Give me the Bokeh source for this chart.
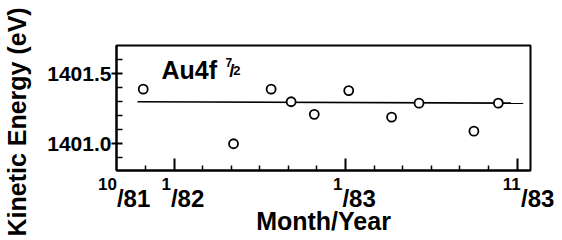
from bokeh.plotting import figure
from bokeh.models import Range1d, FixedTicker, Label, LinearAxis
from bokeh.embed import file_html
from bokeh.resources import INLINE

# Data (x: months counted from 1/82)
month_idx = [-2.16, 4.16, 6.79, 8.19, 9.81, 12.22, 15.22, 17.14, 20.98, 22.69]
energy = [1401.39, 1401.00, 1401.39, 1401.30, 1401.21, 1401.38, 1401.19, 1401.29, 1401.09, 1401.29]

fit_x = [-2.56, 24.43]
fit_y = [1401.30, 1401.29]

y_major = [1401.0, 1401.5]
y_tick_labels = ["1401.0", "1401.5"]
y_minor = [1400.9, 1401.1, 1401.2, 1401.3, 1401.4, 1401.6]
x_major = [0, 12, 24]
x_minor = [-2, 2, 4, 6, 8, 10, 14, 16, 18, 20, 22]

x_label_pos = [-4.0, -0.22, 11.78, 24.28]
x_label_num = ["10", "1", "1", "11"]
x_label_den = ["81", "82", "83", "83"]

y_title = "Kinetic Energy (eV)"
y_title_center = 1401.156
x_title = "Month/Year"

FONT = "Liberation Sans"
NB = "\u00a0"

p = figure(width=562, height=240, output_backend="svg", toolbar_location=None,
           x_range=Range1d(-4.03, 24.94), y_range=Range1d(1400.809, 1401.702),
           min_border_left=115, min_border_right=32, min_border_top=45, min_border_bottom=70,
           background_fill_color="white", border_fill_color="white")
p.grid.visible = False
p.outline_line_color = "black"
p.outline_line_width = 2
p.outline_line_alpha = 1.0

# y axis
ya = p.yaxis[0]
ya.ticker = FixedTicker(ticks=y_major, minor_ticks=y_minor)
ya.major_label_overrides = dict(zip(y_major, y_tick_labels))
ya.axis_line_width = 2
ya.major_tick_in = 6
ya.major_tick_out = 5
ya.minor_tick_in = 6
ya.minor_tick_out = 0
ya.major_tick_line_width = 2
ya.minor_tick_line_width = 1.5
ya.major_label_standoff = 0
ya.major_label_text_font = FONT
ya.major_label_text_font_style = "bold"
ya.major_label_text_font_size = "21px"
ya.major_label_text_color = "black"

# y title, placed (off-centre, as in the original) through a bare outer axis
title_axis = LinearAxis(
    ticker=FixedTicker(ticks=[y_title_center]),
    major_label_overrides={y_title_center: y_title},
    major_label_orientation="parallel",
    axis_line_color=None, major_tick_line_color=None, minor_tick_line_color=None,
    major_label_standoff=7, major_label_text_font=FONT, major_label_text_font_style="bold",
    major_label_text_font_size="25px", major_label_text_color="black")
p.add_layout(title_axis, "left")

# x axis: tick marks only
xa = p.xaxis[0]
xa.ticker = FixedTicker(ticks=x_major, minor_ticks=x_minor)
xa.axis_line_width = 2
xa.major_tick_in = 12
xa.major_tick_out = 0
xa.minor_tick_in = 5
xa.minor_tick_out = 0
xa.major_tick_line_width = 2
xa.minor_tick_line_width = 1.5
xa.major_label_standoff = 0
xa.major_label_text_font_size = "1px"
xa.major_label_text_color = None

# x labels: numerators (raised, smaller) and denominators
num_axis = LinearAxis(
    ticker=FixedTicker(ticks=x_label_pos),
    major_label_overrides={pos: num + NB * (2 * len(num)) for pos, num in zip(x_label_pos, x_label_num)},
    axis_line_color=None, major_tick_line_color=None, minor_tick_line_color=None,
    major_label_standoff=-2, major_label_text_font=FONT, major_label_text_font_style="bold",
    major_label_text_font_size="17px", major_label_text_color="black")
p.add_layout(num_axis, "below")

den_axis = LinearAxis(
    ticker=FixedTicker(ticks=x_label_pos),
    major_label_overrides={pos: NB * (1 + 2 * len(den)) + "/" + den for pos, den in zip(x_label_pos, x_label_den)},
    axis_line_color=None, major_tick_line_color=None, minor_tick_line_color=None,
    major_label_standoff=-18, major_label_text_font=FONT, major_label_text_font_style="bold",
    major_label_text_font_size="24px", major_label_text_color="black",
    axis_label=x_title, axis_label_standoff=-8, axis_label_text_font=FONT,
    axis_label_text_font_style="bold", axis_label_text_font_size="25px",
    axis_label_text_color="black")
p.add_layout(den_axis, "below")

p.line(fit_x, fit_y, line_color="black", line_width=1.6)
p.scatter(month_idx, energy, marker="circle", size=9, line_color="black",
          line_width=1.8, fill_color="white")


def lab(x, y, text, size, align="left"):
    return Label(x=x, y=y, text=text, text_align=align, text_baseline="alphabetic",
                 text_font=FONT, text_font_style="bold",
                 text_font_size=size, text_color="black")


# In-plot annotation Au4f 7/2
p.add_layout(lab(-0.887, 1401.526, "Au4f", "25px"))
p.add_layout(lab(4.07, 1401.581, "7", "12px", "right"))
p.add_layout(lab(3.86, 1401.524, "/", "19px"))
p.add_layout(lab(4.14, 1401.524, "2", "13px"))

open("out.html", "w").write(file_html(p, INLINE))
